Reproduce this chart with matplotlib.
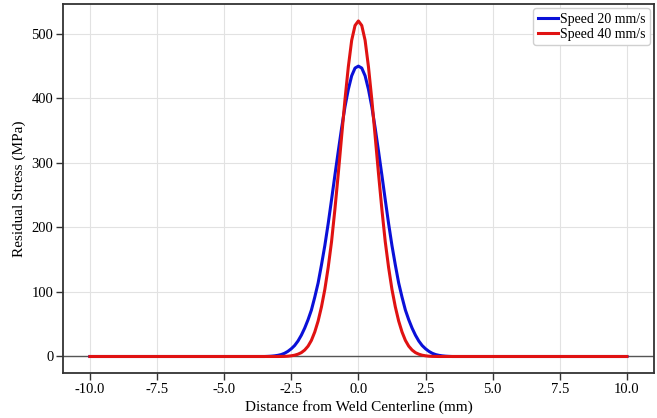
import numpy as np
import matplotlib
matplotlib.use("Agg")
import matplotlib.pyplot as plt

plt.rcParams["font.family"] = ["Liberation Serif", "DejaVu Serif"]

# Half profiles (x = 0, 0.125, ..., 3.5 mm)
half_x = [0.0, 0.125, 0.25, 0.375, 0.5, 0.625, 0.75, 0.875, 1.0, 1.125, 1.25, 1.375,
          1.5, 1.625, 1.75, 1.875, 2.0, 2.125, 2.25, 2.375, 2.5, 2.625, 2.75, 2.875,
          3.0, 3.125, 3.25, 3.375, 3.5]
blue_half = [450, 447, 435, 414, 387, 354, 318, 281, 243, 206, 172, 142,
             114, 92, 72, 57, 44, 33, 24, 17, 12, 8, 5, 3,
             1.8, 1.0, 0.5, 0.2, 0]
red_half = [520, 513, 490, 449, 398, 341, 283, 228, 178, 138, 104, 77,
            55, 38, 25, 16, 10, 6, 3.6, 2, 1.1, 0.5, 0.2, 0.1,
            0, 0, 0, 0, 0]

# curves are symmetric about the weld centerline, flat zero out to +-10 mm
x = [-10.0] + [-v for v in half_x[::-1]] + half_x[1:] + [10.0]
speed20 = [0] + blue_half[::-1] + blue_half[1:] + [0]
speed40 = [0] + red_half[::-1] + red_half[1:] + [0]

fig = plt.figure(figsize=(6.57, 4.18), dpi=100)
ax = fig.add_axes([0.096, 0.107, 0.899, 0.883])

ax.grid(True, color="#e2e2e2", linewidth=0.8)
ax.set_axisbelow(True)
ax.axhline(0, color="#555555", linewidth=1.0, zorder=1)

ax.plot(x, speed20, color="#0a10d8", linewidth=2.2, label="Speed 20 mm/s", zorder=3)
ax.plot(x, speed40, color="#e01212", linewidth=2.2, label="Speed 40 mm/s", zorder=4)

ax.set_xticks(np.arange(-10, 10.1, 2.5))
ax.set_xticklabels([f"{v:.1f}" for v in np.arange(-10, 10.1, 2.5)])
ax.set_yticks([0, 100, 200, 300, 400, 500])
ax.tick_params(labelsize=10.5, direction="out", length=5, width=1,
               color="#333333", pad=2)

for s in ax.spines.values():
    s.set_color("#333333")
    s.set_linewidth(1.3)

ax.set_xlabel("Distance from Weld Centerline (mm)", fontsize=11, labelpad=3)
ax.set_ylabel("Residual Stress (MPa)", fontsize=11, labelpad=4)

ax.legend(loc="upper right", fontsize=10, handlelength=1.5, handletextpad=0.1,
          borderpad=0.3, labelspacing=0.15, borderaxespad=0.3,
          framealpha=1, edgecolor="#d0d0d0", fancybox=True)

fig.savefig("out.png", dpi=100)
